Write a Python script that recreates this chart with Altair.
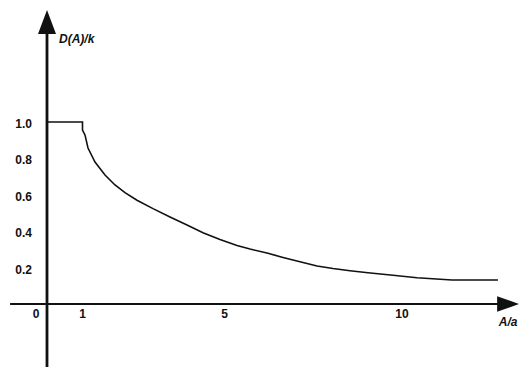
import altair as alt
import pandas as pd

# Curve: D(A)/k versus A/a
curve_x = [0.0, 1.0, 1.0, 1.07, 1.155, 1.352, 1.634, 1.915, 2.197, 2.535, 2.986,
           3.465, 3.944, 4.394, 4.873, 5.352, 5.718, 6.197, 6.648, 7.127, 7.606,
           8.056, 8.535, 9.042, 9.746, 10.423, 11.408, 12.704]
curve_y = [1.0, 1.0, 0.956, 0.929, 0.857, 0.780, 0.709, 0.654, 0.612, 0.570, 0.524,
           0.478, 0.434, 0.392, 0.354, 0.321, 0.302, 0.280, 0.256, 0.232, 0.209,
           0.195, 0.183, 0.172, 0.158, 0.144, 0.132, 0.132]

y_ticks = [0.2, 0.4, 0.6, 0.8, 1.0]
y_tick_labels = ["0.2", "0.4", "0.6", "0.8", "1.0"]
x_ticks = [1, 5, 10]
x_tick_labels = ["1", "5", "10"]

x_title = "A/a"
y_title = "D(A)/k"

X_DOM = [-1.0986, 13.296]
Y_DOM = [-0.3462, 1.6264]

xs = alt.Scale(domain=X_DOM, nice=False, zero=False)
ys = alt.Scale(domain=Y_DOM, nice=False, zero=False)

FONT = "Liberation Sans"
INK = "#111111"


def X():
    return alt.X("x:Q", scale=xs, axis=None)


def Y():
    return alt.Y("y:Q", scale=ys, axis=None)


curve_df = pd.DataFrame({"x": curve_x, "y": curve_y})
curve = alt.Chart(curve_df).mark_line(color=INK, strokeWidth=1.6).encode(x=X(), y=Y())

axes_df = pd.DataFrame({
    "x": [0.0, -1.04],
    "x2": [0.0, 12.9],
    "y": [Y_DOM[0], 0.0],
    "y2": [1.5, 0.0],
    "w": [2.8, 2.2],
})
axes = alt.Chart(axes_df).mark_rule(color=INK).encode(
    x=X(), x2="x2:Q", y=Y(), y2="y2:Q",
    strokeWidth=alt.StrokeWidth("w:Q", scale=None, legend=None),
)

up_arrow = alt.Chart(pd.DataFrame({"x": [0.0], "y": [1.549]})).mark_point(
    shape="M0,-1L0.75,1L-0.75,1Z", size=576, filled=True, color=INK, opacity=1
).encode(x=X(), y=Y())

right_arrow = alt.Chart(pd.DataFrame({"x": [12.99], "y": [0.0]})).mark_point(
    shape="M1,0L-1,-0.7L-1,0.7Z", size=484, filled=True, color=INK, opacity=1
).encode(x=X(), y=Y())

ylab_df = pd.DataFrame({"x": [0.0] * len(y_ticks), "y": y_ticks, "t": y_tick_labels})
ylabels = alt.Chart(ylab_df).mark_text(
    align="right", baseline="middle", dx=-15, dy=2, font=FONT, fontWeight="bold",
    fontSize=12, color=INK
).encode(x=X(), y=Y(), text="t:N")

xlab_df = pd.DataFrame({"x": x_ticks, "y": [0.0] * len(x_ticks), "t": x_tick_labels})
xlabels = alt.Chart(xlab_df).mark_text(
    align="center", baseline="middle", dy=10, font=FONT, fontWeight="bold",
    fontSize=12, color=INK
).encode(x=X(), y=Y(), text="t:N")

zero_label = alt.Chart(pd.DataFrame({"x": [0.0], "y": [0.0], "t": ["0"]})).mark_text(
    align="center", baseline="middle", dx=-11, dy=10, font=FONT, fontWeight="bold",
    fontSize=12, color=INK
).encode(x=X(), y=Y(), text="t:N")

xtitle = alt.Chart(pd.DataFrame({"x": [12.99], "y": [0.0], "t": [x_title]})).mark_text(
    align="center", baseline="middle", dy=18, font=FONT, fontWeight="bold",
    fontStyle="italic", fontSize=12, color=INK
).encode(x=X(), y=Y(), text="t:N")

ytitle = alt.Chart(pd.DataFrame({"x": [0.0], "y": [1.456], "t": [y_title]})).mark_text(
    align="left", baseline="middle", dx=12, font=FONT, fontWeight="bold",
    fontStyle="italic", fontSize=12, color=INK
).encode(x=X(), y=Y(), text="t:N")

chart = alt.layer(
    axes, curve, up_arrow, right_arrow, ylabels, xlabels, zero_label, xtitle, ytitle
).properties(
    width=511, height=359,
    autosize=alt.AutoSizeParams(type="none"),
    padding=0,
    background="white",
).configure_view(stroke=None)

chart.save("out.html", embed_options={"renderer": "svg", "actions": False})
